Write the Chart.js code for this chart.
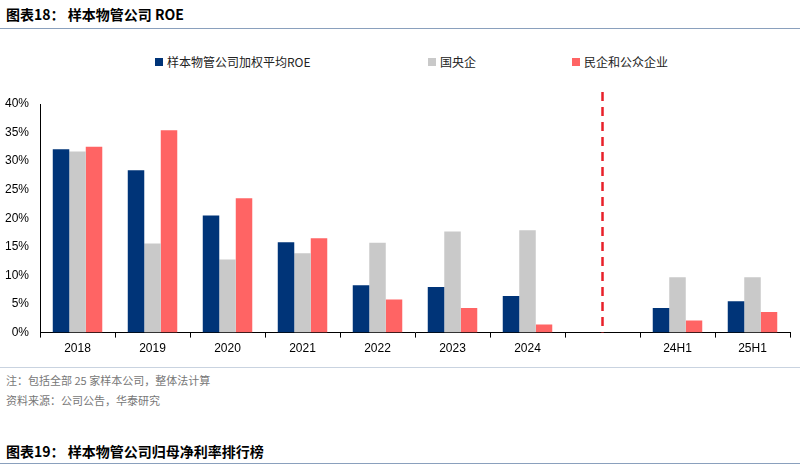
<!DOCTYPE html>
<html><head><meta charset="utf-8">
<script src="https://cdn.jsdelivr.net/npm/chart.js@4"></script>
<style>
body{margin:0;width:800px;height:475px;position:relative;background:#fff;font-family:"Noto Sans CJK SC","Liberation Sans",sans-serif;overflow:hidden}
.t{position:absolute;left:6px;font-size:14px;font-weight:bold;color:#000}
.hl{position:absolute;left:0;width:800px;height:1px;background:#8aa0bd}
.n{position:absolute;left:6px;font-size:11px;color:#777}
.lg{position:absolute;top:53px;font-size:12px;color:#222;display:flex;align-items:center}
.lg i{display:inline-block;width:8px;height:8px;margin-right:4px}
#w{position:absolute;left:0;top:40px;width:800px;height:320px}
</style></head><body>
<div class="t" style="top:4px">图表18：  样本物管公司 ROE</div>
<div class="hl" style="top:28px"></div>
<div class="lg" style="left:155px"><i style="background:#003478"></i>样本物管公司加权平均ROE</div>
<div class="lg" style="left:428px"><i style="background:#c9c9c9"></i>国央企</div>
<div class="lg" style="left:572px"><i style="background:#ff6464"></i>民企和公众企业</div>
<div id="w"><canvas id="c"></canvas></div>
<div class="hl" style="top:367px;background:#c9d3e0"></div>
<div class="n" style="top:372px">注：包括全部 25 家样本公司，整体法计算</div>
<div class="n" style="top:392px">资料来源：公司公告，华泰研究</div>
<div class="t" style="top:441px">图表19：  样本物管公司归母净利率排行榜</div>
<div class="hl" style="top:463px"></div>
<script>
const categories=["2018","2019","2020","2021","2022","2023","2024","","24H1","25H1"];
const seriesNames=["样本物管公司加权平均ROE","国央企","民企和公众企业"];
const avgROE=[32.1,28.4,20.5,15.8,8.3,8.0,6.4,null,4.3,5.5];
const soeROE=[31.7,15.6,12.8,13.9,15.7,17.7,17.9,null,9.7,9.7];
const privROE=[32.5,35.4,23.5,16.5,5.8,4.3,1.4,null,2.1,3.6];
const yTicks=[0,5,10,15,20,25,30,35,40];
const dividerCategory="";
const colors=["#003478","#c9c9c9","#ff6464"];
const divider={id:"divider",afterDatasetsDraw(ch){const x=ch.scales.x.getPixelForValue(categories.indexOf(dividerCategory));const c=ch.ctx;c.save();c.strokeStyle="#e8202a";c.lineWidth=2.5;c.setLineDash([9,6]);c.beginPath();c.moveTo(x,52);c.lineTo(x,ch.chartArea.bottom);c.stroke();c.restore();}};
new Chart(document.getElementById("c"),{type:"bar",
data:{labels:categories,datasets:[avgROE,soeROE,privROE].map((d,i)=>({label:seriesNames[i],data:d,backgroundColor:colors[i],categoryPercentage:0.66,barPercentage:1}))},
options:{responsive:true,maintainAspectRatio:false,animation:false,
layout:{padding:{top:64,right:10,left:2,bottom:0}},
plugins:{legend:{display:false},tooltip:{enabled:false}},
scales:{
x:{grid:{display:true,drawOnChartArea:false,offset:true,color:"#000",tickLength:5},border:{color:"#000"},ticks:{color:"#000",font:{size:12,family:"Liberation Sans"},padding:4}},
y:{min:0,max:40,afterBuildTicks(a){a.ticks=yTicks.map(v=>({value:v}));},grid:{display:false},border:{color:"#000"},ticks:{color:"#000",font:{size:12,family:"Liberation Sans"},callback:v=>v+"%"}}
}},plugins:[divider]});
</script></body></html>
